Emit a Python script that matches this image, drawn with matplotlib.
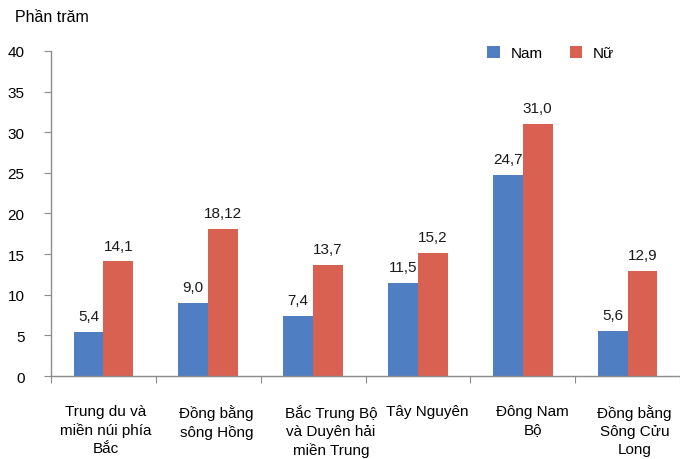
import matplotlib
matplotlib.use("Agg")
import matplotlib.pyplot as plt
import matplotlib.transforms as mtransforms
import numpy as np

plt.rcParams['font.family'] = ['Liberation Sans', 'DejaVu Sans']

regions = ["Trung du và\nmiền núi phía\nBắc", "Đồng bằng\nsông Hồng",
           "Bắc Trung Bộ\nvà Duyên hải\nmiền Trung", "Tây Nguyên",
           "Đông Nam\nBộ", "Đồng bằng\nSông Cửu\nLong"]
nam = [5.4, 9.0, 7.4, 11.5, 24.7, 5.6]
nu = [14.1, 18.12, 13.7, 15.2, 31.0, 12.9]
nam_labels = ["5,4", "9,0", "7,4", "11,5", "24,7", "5,6"]
nu_labels = ["14,1", "18,12", "13,7", "15,2", "31,0", "12,9"]
yticks = [0, 5, 10, 15, 20, 25, 30, 35, 40]

c_nam = "#4F7EC2"
c_nu = "#D86152"
axis_col = "#8C8C8C"

fig = plt.figure(figsize=(6.8, 4.6), dpi=100)
ax = fig.add_axes([0.075, 0.1804, 0.925, 0.7066])

x = np.arange(len(regions))
w = 0.285
b1 = ax.bar(x - w / 2, nam, w, color=c_nam, label="Nam")
b2 = ax.bar(x + w / 2, nu, w, color=c_nu, label="Nữ")

for bars, labs in ((b1, nam_labels), (b2, nu_labels)):
    for rect, lab in zip(bars, labs):
        ax.text(rect.get_x() + rect.get_width() / 2, rect.get_height() + 1.1, lab,
                ha="center", va="bottom", fontsize=11, color="#1a1a1a")

ax.set_xlim(-0.5, len(regions) - 0.5)
ax.set_ylim(0, 40)
ax.set_yticks(yticks)
ax.set_yticklabels([str(t) for t in yticks], fontsize=11)

# category boundaries carry the tick marks, centres carry the wrapped names
ax.set_xticks(np.arange(len(regions) + 1) - 0.5)
ax.set_xticklabels([])
ax.set_xticks(x, minor=True)
ax.set_xticklabels(regions, minor=True, fontsize=11, linespacing=1.38, va="top")
ax.tick_params(axis="x", which="minor", length=0, pad=20)
ax.tick_params(axis="x", which="major", length=5, color=axis_col, direction="out")
ax.tick_params(axis="y", length=5, color=axis_col, direction="out", pad=14)

# wrapped labels sit slightly right of the category centres
label_shift_px = [2, 8, 18, 9, 10, 7]
for lbl, dx in zip(ax.get_xticklabels(minor=True), label_shift_px):
    lbl.set_transform(lbl.get_transform() +
                      mtransforms.ScaledTranslation(dx / 100, 0, fig.dpi_scale_trans))

for s in ("top", "right"):
    ax.spines[s].set_visible(False)
for s in ("left", "bottom"):
    ax.spines[s].set_color(axis_col)
    ax.spines[s].set_linewidth(1.0)

fig.text(0.022, 0.963, "Phần trăm", fontsize=11.5, ha="left", va="center")

ax.legend(loc="upper left", bbox_to_anchor=(0.672, 1.057), ncol=2, frameon=False,
          fontsize=11, handlelength=0.8, handleheight=0.8, columnspacing=1.8,
          handletextpad=0.7)

fig.savefig("out.png", dpi=100)
